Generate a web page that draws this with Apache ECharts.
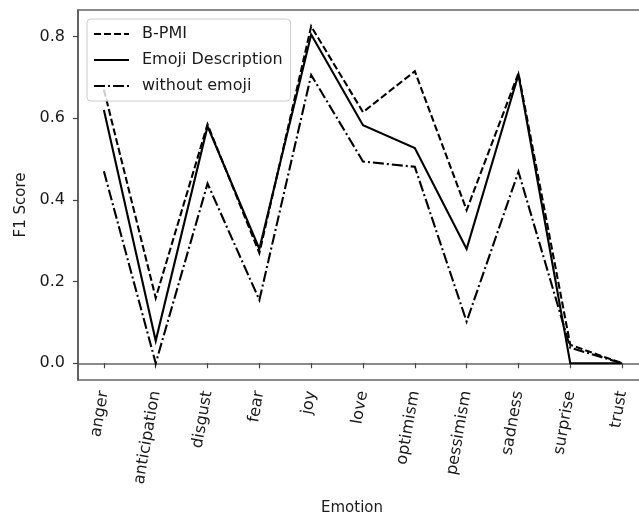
<!DOCTYPE html>
<html>
<head>
<meta charset="utf-8">
<script src="https://cdn.jsdelivr.net/npm/echarts@6/dist/echarts.min.js"></script>
<style>
html,body{margin:0;padding:0;background:#fff;}
#chart{width:639px;height:518px;}
</style>
</head>
<body>
<div id="chart"></div>
<script>
const categories = ['anger','anticipation','disgust','fear','joy','love','optimism','pessimism','sadness','surprise','trust'];
const bpmi = [0.67, 0.16, 0.585, 0.27, 0.825, 0.615, 0.715, 0.375, 0.71, 0.045, 0.0];
const emojiDesc = [0.62, 0.055, 0.58, 0.28, 0.805, 0.583, 0.527, 0.28, 0.707, 0.0, 0.0];
const withoutEmoji = [0.47, 0.0, 0.44, 0.155, 0.706, 0.494, 0.481, 0.102, 0.469, 0.038, 0.0];
const yTicks = [0.0, 0.2, 0.4, 0.6, 0.8];
const seriesNames = ['B-PMI', 'Emoji Description', 'without emoji'];

const FONT = 'DejaVu Sans';
const chart = echarts.init(document.getElementById('chart'), null, {renderer: 'canvas'});

function lineSeries(name, data, type) {
  return {
    name: name,
    type: 'line',
    data: data,
    symbol: 'none',
    showSymbol: false,
    animation: false,
    lineStyle: {color: '#000', width: 2.1, type: type, cap: 'butt', join: 'miter'},
    itemStyle: {color: '#000'}
  };
}

chart.setOption({
  animation: false,
  backgroundColor: '#fff',
  grid: {
    left: 78, top: 10, width: 570, height: 370,
    outerBoundsMode: 'none',
    show: true, borderColor: '#666', borderWidth: 1.5, backgroundColor: 'transparent',
    containLabel: false
  },
  xAxis: {
    type: 'category',
    data: categories,
    boundaryGap: true,
    axisLine: {show: true, lineStyle: {color: '#666', width: 1.5}},
    axisTick: {show: true, alignWithLabel: true, length: 5, lineStyle: {color: '#444', width: 1.2}},
    axisLabel: {rotate: 80, margin: 11, color: '#1a1a1a', fontFamily: FONT, fontSize: 16, interval: 0},
    splitLine: {show: false}
  },
  yAxis: {
    type: 'value',
    min: -0.041, max: 0.865,
    axisLine: {show: true, lineStyle: {color: '#555', width: 1.5}},
    axisTick: {show: true, length: 5, customValues: yTicks, lineStyle: {color: '#444', width: 1.2}},
    axisLabel: {show: true, customValues: yTicks, margin: 13, color: '#1a1a1a', fontFamily: FONT, fontSize: 16,
      formatter: function (v) { return v.toFixed(1); }},
    splitLine: {show: false}
  },
  legend: {
    orient: 'vertical',
    left: 87, top: 19,
    data: seriesNames,
    itemWidth: 35, itemHeight: 14, itemGap: 8,
    padding: [6, 8, 6, 6],
    backgroundColor: 'rgba(255,255,255,0.8)',
    borderColor: '#ccc', borderWidth: 1, borderRadius: 4,
    itemStyle: {opacity: 0},
    textStyle: {color: '#1a1a1a', fontFamily: FONT, fontSize: 16, padding: [0, 0, 0, 8], lineHeight: 18},
    inactiveColor: '#000'
  },
  graphic: [
    {type: 'text', left: 352 - 31, top: 501, style: {text: 'Emotion', fontFamily: FONT, fontSize: 15, fill: '#1a1a1a'}},
    {type: 'text', x: 21, y: 205, rotation: Math.PI / 2, style: {text: 'F1 Score', fontFamily: FONT, fontSize: 15, fill: '#1a1a1a', align: 'center', verticalAlign: 'middle'}}
  ],
  series: [
    lineSeries(seriesNames[0], bpmi, [7, 3]),
    lineSeries(seriesNames[1], emojiDesc, 'solid'),
    lineSeries(seriesNames[2], withoutEmoji, [11, 3, 2, 3])
  ]
});
</script>
</body>
</html>
